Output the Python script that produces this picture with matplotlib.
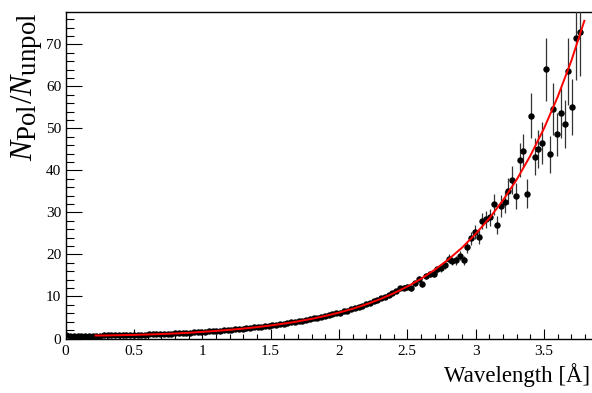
import numpy as np
import matplotlib
matplotlib.use("Agg")
import matplotlib.pyplot as plt
import matplotlib._mathtext as _mt
from matplotlib.ticker import MultipleLocator

plt.rcParams['font.family'] = ['Liberation Serif', 'DejaVu Serif']
plt.rcParams['mathtext.fontset'] = 'custom'
plt.rcParams['mathtext.rm'] = 'Liberation Serif'
plt.rcParams['mathtext.it'] = 'Liberation Serif:italic'
_mt.SHRINK_FACTOR = 0.88   # ROOT-like larger subscripts

# ---- data ----
first_center = 0.007      # wavelength of first data bin [Å]
bin_width = 0.0274        # spacing of data bins [Å]

ratio = [
    0.72, 0.70, 0.71, 0.70, 0.69, 0.71, 0.70, 0.70,
    0.70, 0.71, 0.72, 0.73, 0.74, 0.77, 0.78, 0.80, 0.82, 0.84,
    0.86, 0.89, 0.90, 0.93, 0.96, 0.98, 1.02, 1.05, 1.08, 1.12,
    1.15, 1.20, 1.24, 1.28, 1.34, 1.38, 1.43, 1.50, 1.57, 1.61,
    1.69, 1.73, 1.82, 1.87, 1.96, 2.01, 2.11, 2.17, 2.27, 2.33,
    2.44, 2.52, 2.63, 2.71, 2.84, 2.92, 3.07, 3.14, 3.30, 3.39,
    3.55, 3.65, 3.83, 3.93, 4.13, 4.24, 4.46, 4.57, 4.81, 4.93,
    5.19, 5.32, 5.60, 5.72, 6.03,
    6.18, 6.52, 6.66, 7.02, 7.20, 7.60, 7.78, 8.20, 8.38, 8.85,
    9.05, 9.55, 9.78, 10.30, 10.90, 11.30, 11.95, 12.10, 12.30, 11.90,
    13.10, 14.10, 12.90, 14.90, 15.30, 15.40, 16.50, 16.70, 17.40, 19.00,
    18.40, 18.60, 19.70, 18.60, 21.70, 23.80, 25.30, 24.20, 28.00, 28.40,
    28.80, 31.90, 27.00, 31.50, 32.50, 35.10, 37.80, 33.90, 42.50, 44.70,
    34.50, 53.00, 43.30, 45.10, 46.60, 64.10, 43.90, 54.70, 48.60, 53.70,
    51.00, 63.60, 55.10, 71.60, 72.90,
]

ratio_err = [
    0.03, 0.03, 0.03, 0.03, 0.03, 0.03, 0.03, 0.03,
    0.03, 0.03, 0.03, 0.03, 0.03, 0.03, 0.03, 0.03, 0.03, 0.03,
    0.03, 0.03, 0.03, 0.03, 0.03, 0.03, 0.04, 0.04, 0.04, 0.04,
    0.04, 0.04, 0.04, 0.04, 0.05, 0.05, 0.05, 0.05, 0.05, 0.05,
    0.05, 0.05, 0.06, 0.06, 0.06, 0.06, 0.07, 0.07, 0.07, 0.07,
    0.08, 0.08, 0.08, 0.08, 0.09, 0.09, 0.10, 0.10, 0.10, 0.11,
    0.11, 0.12, 0.12, 0.13, 0.13, 0.14, 0.15, 0.15, 0.16, 0.17,
    0.18, 0.18, 0.19, 0.20, 0.21,
    0.22, 0.23, 0.24, 0.26, 0.27, 0.28, 0.30, 0.31, 0.33, 0.35,
    0.37, 0.39, 0.41, 0.43, 0.46, 0.48, 0.51, 0.54, 0.57, 0.60,
    0.63, 0.66, 0.70, 0.74, 0.78, 0.82, 0.86, 0.90, 0.95, 1.00,
    1.00, 1.05, 1.10, 1.10, 1.30, 1.50, 1.60, 1.60, 1.90, 2.00,
    2.10, 2.40, 2.20, 2.60, 2.70, 3.00, 3.30, 3.00, 4.00, 4.00,
    3.50, 5.40, 4.30, 4.50, 5.00, 7.50, 4.40, 6.20, 5.10, 6.00,
    5.70, 8.00, 6.60, 10.00, 10.40,
]

# fit curve
fit_x = [0.22, 0.3, 0.4, 0.5, 0.6, 0.7, 0.8, 0.9, 1.0, 1.1, 1.2, 1.3, 1.4,
         1.5, 1.6, 1.7, 1.8, 1.9, 2.0, 2.1, 2.2, 2.3, 2.4, 2.5, 2.6, 2.7,
         2.8, 2.9, 3.0, 3.1, 3.2, 3.3, 3.4, 3.5, 3.6, 3.7, 3.795]
fit_y = [0.70, 0.73, 0.79, 0.86, 0.95, 1.06, 1.19, 1.36, 1.57, 1.80, 2.06,
         2.36, 2.70, 3.10, 3.55, 4.07, 4.67, 5.37, 6.15, 7.07, 8.13, 9.35,
         10.75, 12.36, 14.2, 16.35, 18.8, 21.6, 24.9, 28.6, 32.9, 37.8,
         43.5, 50.0, 57.5, 66.1, 75.6]

x = first_center + bin_width * np.arange(len(ratio))

fig = plt.figure(figsize=(5.92, 3.93), dpi=100)
ax = fig.add_axes([65.5 / 592, 1 - 338.5 / 393, 525 / 592, (338.5 - 12.4) / 393])

ax.errorbar(x, ratio, yerr=ratio_err, fmt='o', color='black', ms=3.6,
            ecolor='#333333', elinewidth=0.9, capsize=0, zorder=3)
ax.plot(fit_x, fit_y, color='#ff0000', lw=1.4, zorder=4)

ax.set_xlim(0, 3.84)
ax.set_ylim(0, 77.6)

ax.xaxis.set_major_locator(MultipleLocator(0.5))
ax.xaxis.set_minor_locator(MultipleLocator(0.1))
ax.yaxis.set_major_locator(MultipleLocator(10))
ax.yaxis.set_minor_locator(MultipleLocator(2))
ax.set_xticks([0, 0.5, 1, 1.5, 2, 2.5, 3, 3.5])
ax.set_xticklabels(['0', '0.5', '1', '1.5', '2', '2.5', '3', '3.5'])

ax.tick_params(axis='x', which='major', direction='in', length=7.2, width=0.8,
               labelsize=11, pad=5, top=False)
ax.tick_params(axis='x', which='minor', direction='in', length=3.6, width=0.8, top=False)
ax.tick_params(axis='y', which='major', direction='in', length=11.3, width=0.8,
               labelsize=11, pad=3, right=False)
ax.tick_params(axis='y', which='minor', direction='in', length=5.5, width=0.8, right=False)

for s in ['left', 'bottom', 'top']:
    ax.spines[s].set_linewidth(1.0)
ax.spines['right'].set_visible(False)

ax.set_xlabel('Wavelength [Å]', fontsize=16.5, loc='right')
ax.xaxis.set_label_coords(1.0, -0.076)
ax.set_ylabel(r'$N_{\rm Pol}/N_{\rm unpol}$', fontsize=22, loc='top')
ax.yaxis.set_label_coords(-0.039, 1.0)

fig.savefig('out.png', dpi=100)
